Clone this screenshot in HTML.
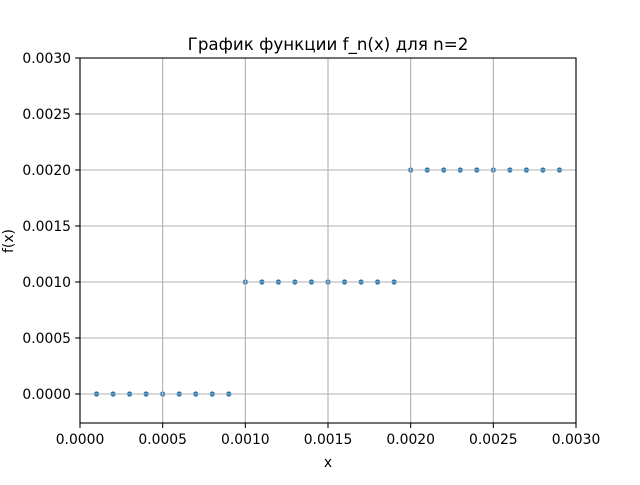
<!DOCTYPE html>
<html><head><meta charset="utf-8"><style>
body{margin:0;background:#fff}
text{font-family:"DejaVu Sans","Liberation Sans",sans-serif;font-size:13.9px;fill:#000}
</style></head><body>
<svg id="chart" width="640" height="480" xmlns="http://www.w3.org/2000/svg">
<rect width="640" height="480" fill="#fff"/>
<g id="marks"></g>
<g id="grid"></g>
<g id="axes"></g>
<text x="328" y="50" text-anchor="middle" style="font-size:16.7px">График функции f_n(x) для n=2</text>
<text x="328" y="467" text-anchor="middle">x</text>
<text x="13" y="241" text-anchor="middle" transform="rotate(-90 13 241)">f(x)</text>
</svg>
<script>
const xValues=[0.0001,0.0002,0.0003,0.0004,0.0005,0.0006,0.0007,0.0008,0.0009,0.0010,0.0011,0.0012,0.0013,0.0014,0.0015,0.0016,0.0017,0.0018,0.0019,0.0020,0.0021,0.0022,0.0023,0.0024,0.0025,0.0026,0.0027,0.0028,0.0029];
const yValues=[0,0,0,0,0,0,0,0,0,0.001,0.001,0.001,0.001,0.001,0.001,0.001,0.001,0.001,0.001,0.002,0.002,0.002,0.002,0.002,0.002,0.002,0.002,0.002,0.002];
const xTicks=[0,0.0005,0.001,0.0015,0.002,0.0025,0.003];
const xTickLabels=["0.0000","0.0005","0.0010","0.0015","0.0020","0.0025","0.0030"];
const yTicks=[0,0.0005,0.001,0.0015,0.002,0.0025,0.003];
const yTickLabels=["0.0000","0.0005","0.0010","0.0015","0.0020","0.0025","0.0030"];
const L=80,R=576,T=58,B=423,xMin=0,xMax=0.003,yMin=-0.000259,yMax=0.003;
const sx=v=>L+(v-xMin)/(xMax-xMin)*(R-L);
const sy=v=>B-(v-yMin)/(yMax-yMin)*(B-T);
const NS="http://www.w3.org/2000/svg";
function mk(tag,attrs,parent){const e=document.createElementNS(NS,tag);for(const k in attrs)e.setAttribute(k,attrs[k]);parent.appendChild(e);return e;}
const marks=document.getElementById('marks'),grid=document.getElementById('grid'),axes=document.getElementById('axes');
xValues.forEach((x,i)=>{
  const c=mk('circle',{cx:sx(x),cy:sy(yValues[i]),r:2.6,fill:'#1f77b4'},marks);
  
  
});
xTicks.forEach((t,i)=>{
  const x=sx(t);
  const g=mk('line',{x1:x,x2:x,y1:T,y2:B,stroke:'#b0b0b0','stroke-width':1.1},grid);
  
  
  mk('line',{x1:x,x2:x,y1:B,y2:B+4.9,stroke:'#000','stroke-width':1.1},axes);
  const tx=mk('text',{x:x,y:B+21,'text-anchor':'middle'},axes);
  tx.textContent=xTickLabels[i];
  
  
});
yTicks.forEach((t,i)=>{
  const y=sy(t);
  const g=mk('line',{x1:L,x2:R,y1:y,y2:y,stroke:'#b0b0b0','stroke-width':1.1},grid);
  
  
  mk('line',{x1:L-4.9,x2:L,y1:y,y2:y,stroke:'#000','stroke-width':1.1},axes);
  const tx=mk('text',{x:L-9,y:y+5,'text-anchor':'end'},axes);
  tx.textContent=yTickLabels[i];
  
  
});
const fr=mk('rect',{x:L,y:T,width:R-L,height:B-T,fill:'none',stroke:'#000','stroke-width':1.1},axes);


</script>
</body></html>
